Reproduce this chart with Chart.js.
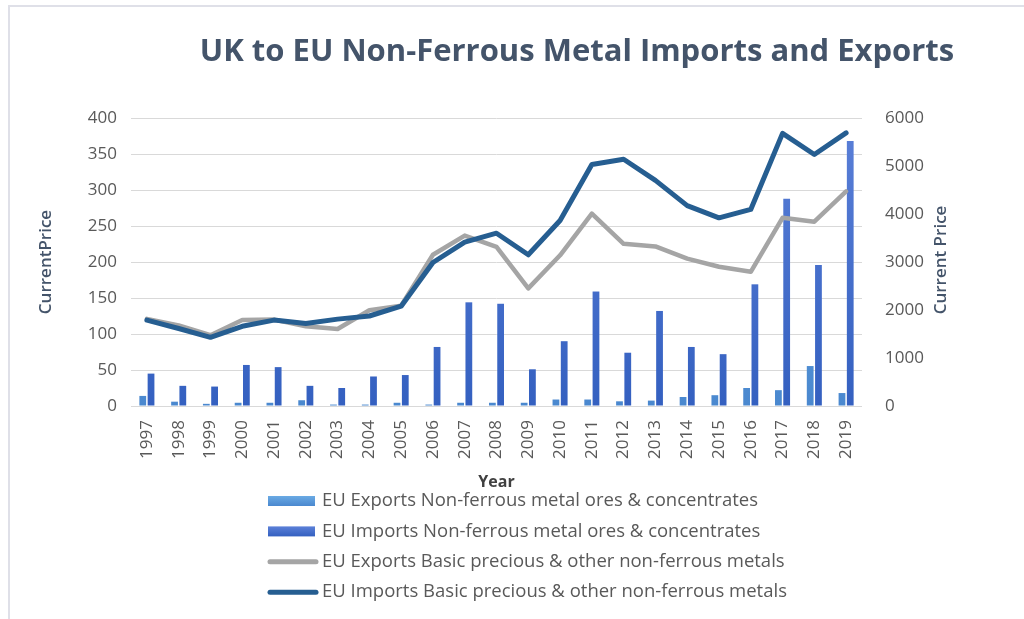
<!DOCTYPE html>
<html>
<head>
<meta charset="utf-8">
<script src="https://cdn.jsdelivr.net/npm/chart.js@4.4.1/dist/chart.umd.min.js"></script>
<style>
  body { margin: 0; background: #fff; }
  #frame {
    position: absolute; left: 8px; top: 5px; width: 1016px; height: 614px;
    border-left: 2px solid #dfe0e8; border-top: 2px solid #dfe0e8; box-sizing: border-box;
  }
  #chart { position: absolute; left: 0; top: 0; }
</style>
</head>
<body>
<div id="frame"></div>
<canvas id="chart" width="1024" height="619"></canvas>

<script>
var titleText = "UK to EU Non-Ferrous Metal Imports and Exports";

var years = ["1997", "1998", "1999", "2000", "2001", "2002", "2003", "2004", "2005", "2006", "2007", "2008",
             "2009", "2010", "2011", "2012", "2013", "2014", "2015", "2016", "2017", "2018", "2019"];

// bars, left axis
var exportsOres = [14, 6, 3, 4.5, 4.5, 8, 2, 2, 4.5, 2, 4.5, 4.5, 4.5, 9, 9, 6.5, 7.5, 12.5, 15, 25, 22, 55.5, 18];
var importsOres = [45, 28, 27, 57, 54, 28, 25, 41, 43, 82, 144, 142, 51, 90, 159, 74, 132, 82, 72, 169, 288, 196, 368];

// lines, right axis
var exportsMetals = [1815, 1680, 1475, 1790, 1800, 1660, 1605, 1995, 2090, 3150, 3550, 3315, 2450, 3140, 4010,
                     3380, 3325, 3070, 2900, 2795, 3920, 3840, 4470];
var importsMetals = [1790, 1615, 1430, 1660, 1790, 1720, 1810, 1875, 2080, 2990, 3415, 3600, 3150, 3865, 5030,
                     5140, 4700, 4175, 3920, 4095, 5680, 5240, 5690];

var labels = [
  "EU Exports Non-ferrous metal ores & concentrates",
  "EU Imports Non-ferrous metal ores & concentrates",
  "EU Exports Basic precious & other non-ferrous metals",
  "EU Imports Basic precious & other non-ferrous metals"
];

var tickColor = "#595959";
var titleColor = "#44546A";

Chart.defaults.font.family = '"Open Sans", sans-serif';

function barGradient(top, bottom) {
  return function(c) {
    var area = c.chart.chartArea;
    if (!area) return bottom;
    var g = c.chart.ctx.createLinearGradient(0, area.top, 0, area.bottom);
    g.addColorStop(0, top);
    g.addColorStop(1, bottom);
    return g;
  };
}

// title, right axis title and the stacked legend underneath
var extras = {
  id: "extras",
  afterDraw: function(chart) {
    var ctx = chart.ctx;
    ctx.save();
    ctx.fillStyle = titleColor;
    ctx.textAlign = "center";
    ctx.textBaseline = "middle";
    ctx.font = 'bold 31px "Open Sans"';
    ctx.fillText(titleText, 577, 52);

    ctx.save();
    ctx.translate(941, 260);
    ctx.rotate(-Math.PI / 2);
    ctx.font = '600 17px "Open Sans"';
    ctx.fillText("Current Price", 0, 0);
    ctx.restore();

    var ds = chart.data.datasets;
    ctx.textAlign = "left";
    ctx.font = '18.5px "Open Sans"';
    for (var i = 0; i < ds.length; i++) {
      var y = 501 + i * 30.4;
      if (ds[i].type === "line") {
        ctx.strokeStyle = ds[i].borderColor;
        ctx.lineWidth = 5;
        ctx.lineCap = "round";
        ctx.beginPath();
        ctx.moveTo(270, y);
        ctx.lineTo(316, y);
        ctx.stroke();
      } else {
        var g = ctx.createLinearGradient(0, y - 5, 0, y + 5);
        g.addColorStop(0, ds[i].swatch[0]);
        g.addColorStop(1, ds[i].swatch[1]);
        ctx.fillStyle = g;
        ctx.fillRect(268, y - 5, 47, 10);
      }
      ctx.fillStyle = tickColor;
      ctx.fillText(ds[i].label, 322, y);
    }
    ctx.restore();
  }
};

new Chart(document.getElementById("chart"), {
  type: "bar",
  data: {
    labels: years,
    datasets: [
      {
        label: labels[0], data: exportsOres, yAxisID: "y", order: 2,
        backgroundColor: barGradient("#6aaae4", "#4a88cf"), swatch: ["#6aaae4", "#4a88cf"],
        categoryPercentage: 0.52, barPercentage: 0.82
      },
      {
        label: labels[1], data: importsOres, yAxisID: "y", order: 3,
        backgroundColor: barGradient("#5b80d8", "#3460c0"), swatch: ["#5b80d8", "#3460c0"],
        categoryPercentage: 0.52, barPercentage: 0.82
      },
      {
        type: "line", label: labels[2], data: exportsMetals, yAxisID: "y1", order: 1,
        borderColor: "#a5a5a5", borderWidth: 4.5, pointRadius: 0, tension: 0,
        borderJoinStyle: "round", borderCapStyle: "round", fill: false
      },
      {
        type: "line", label: labels[3], data: importsMetals, yAxisID: "y1", order: 0,
        borderColor: "#265e91", borderWidth: 5, pointRadius: 0, tension: 0,
        borderJoinStyle: "round", borderCapStyle: "round", fill: false
      }
    ]
  },
  options: {
    responsive: false,
    animation: false,
    layout: { padding: { left: 10, right: 62, top: 118, bottom: 127 } },
    plugins: {
      legend: { display: false },
      title: { display: false },
      tooltip: { enabled: false }
    },
    scales: {
      x: {
        grid: { display: false },
        border: { display: false },
        ticks: {
          autoSkip: false, minRotation: 90, maxRotation: 90, padding: 6,
          color: tickColor, font: { size: 17 }
        },
        title: {
          display: true, text: "Year", color: "#404040",
          font: { size: 16, weight: "bold" }, padding: { top: 0, bottom: 0 }
        },
        afterFit: function(s) { s.height = 86; }
      },
      y: {
        position: "left", min: 0, max: 400,
        grid: { color: "#d9d9d9", drawTicks: false },
        border: { display: false },
        ticks: { stepSize: 50, padding: 14, color: tickColor, font: { size: 17 } },
        title: {
          display: true, text: "CurrentPrice", color: titleColor,
          font: { size: 17, weight: "600" }, padding: { top: 26, bottom: 0 }
        },
        afterFit: function(s) { s.width = 121; }
      },
      y1: {
        position: "right", min: 0, max: 6000,
        grid: { display: false },
        border: { display: false },
        ticks: {
          stepSize: 1000, padding: 15, color: tickColor, font: { size: 17 },
          callback: function(v) { return String(v); }
        },
        afterFit: function(s) { s.width = 100; }
      }
    }
  },
  plugins: [extras]
});
</script>
</body>
</html>
